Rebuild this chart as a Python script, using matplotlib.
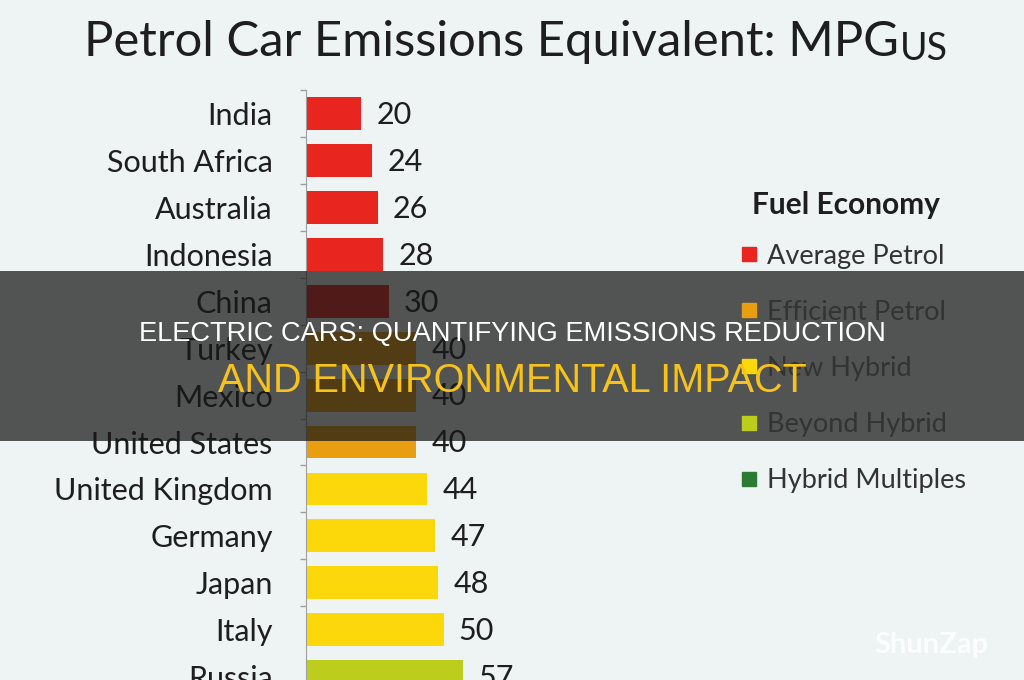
import matplotlib as mpl
mpl.use('agg')
import numpy as np
from matplotlib import pyplot as plt
from matplotlib.patches import Rectangle
from matplotlib.lines import Line2D

countries = ['India', 'South Africa', 'Australia', 'Indonesia', 'China', 'Turkey', 'Mexico',
             'United States', 'United Kingdom', 'Germany', 'Japan', 'Italy', 'Russia']
mpg = [20, 24, 26, 28, 30, 40, 40, 40, 44, 47, 48, 50, 57]
groups = ['Average Petrol'] * 5 + ['Efficient Petrol'] * 3 + ['New Hybrid'] * 4 + ['Beyond Hybrid']

legend_labels = ['Average Petrol', 'Efficient Petrol', 'New Hybrid', 'Beyond Hybrid', 'Hybrid Multiples']
legend_colors = ['#e8251f', '#e99e10', '#fcd80a', '#bccd1c', '#2d7a33']
group_color = dict(zip(legend_labels, legend_colors))

BG = '#eef3f3'
TXT = '#1e1e1e'


def main():
    plt.rcParams['font.family'] = ['Lato', 'DejaVu Sans']
    fig = plt.figure(figsize=(10.24, 6.8), dpi=100)
    fig.patch.set_facecolor(BG)

    # axes: bars start at x=306px, 2.75 px per mpg, rows every ~46.8 px
    ax = fig.add_axes([306 / 1024, 0, 394 / 1024, 590 / 680])
    ax.set_facecolor(BG)
    y = np.arange(len(countries))
    colors = [group_color[g] for g in groups]
    ax.barh(y, mpg, height=0.70, color=colors, zorder=2)

    for yi, v in zip(y, mpg):
        ax.annotate(str(v), (v, yi), xytext=(11, -1), textcoords='offset points',
                    va='center', ha='left', fontsize=22, color=TXT, clip_on=False)

    ax.set_yticks(y)
    ax.set_yticklabels(countries, fontsize=22, color=TXT)
    ax.set_yticks(np.arange(len(countries) - 1) - 0.5, minor=True)
    ax.tick_params(axis='y', which='major', length=0, pad=24)
    ax.tick_params(axis='y', which='minor', length=4, width=1, color='#a0a0a0', direction='out')
    ax.set_xticks([])
    ax.set_xlim(0, 394 / 2.75)
    ax.set_ylim(12.07, -0.5)
    for s in ['top', 'right', 'bottom']:
        ax.spines[s].set_visible(False)
    ax.spines['left'].set_color('#a0a0a0')

    # legend
    fig.text(752 / 1024, 1 - 205 / 680, 'Fuel Economy', fontsize=21.5, fontweight='bold',
             color=TXT, ha='left', va='center')
    handles = [Line2D([], [], marker='s', linestyle='none', markersize=10, color=c) for c in legend_colors]
    leg = fig.legend(handles, legend_labels, loc='upper left', bbox_to_anchor=(722 / 1024, 1 - 230 / 680),
                     frameon=False, fontsize=19.5, handletextpad=0.15, borderpad=0,
                     labelspacing=1.15, handlelength=1.0)
    for t in leg.get_texts():
        t.set_color('#333333')

    # title with small "US"
    title = fig.text(84 / 1024, 1 - 56 / 680, 'Petrol Car Emissions Equivalent: MPG',
                     fontsize=35.3, color=TXT, va='baseline', ha='left')
    fig.canvas.draw()
    bb = title.get_window_extent()
    fig.text((bb.x1 + 1) / 1024, 1 - 60 / 680, 'US', fontsize=27, color=TXT,
             va='baseline', ha='left')

    # dark banner with headline
    fig.add_artist(Rectangle((0, 1 - 441 / 680), 1, 170 / 680, transform=fig.transFigure,
                             facecolor='#161616', alpha=0.72, edgecolor='none', zorder=5))
    fig.text(0.5, 1 - 334 / 680, 'ELECTRIC CARS: QUANTIFYING EMISSIONS REDUCTION',
             family=['Liberation Sans', 'DejaVu Sans'], fontsize=19.6, color='white',
             ha='center', va='center', zorder=6)
    fig.text(0.5, 1 - 381 / 680, 'AND ENVIRONMENTAL IMPACT',
             family=['Liberation Sans', 'DejaVu Sans'], fontsize=28.5, color='#f6c21c',
             ha='center', va='center', zorder=6)

    fig.text(931 / 1024, 1 - 645 / 680, 'ShunZap', fontsize=21, fontweight='bold',
             color='white', alpha=0.85, ha='center', va='center', zorder=6)

    fig.savefig('out.png', dpi=100, facecolor=BG)


if __name__ == '__main__':
    main()
